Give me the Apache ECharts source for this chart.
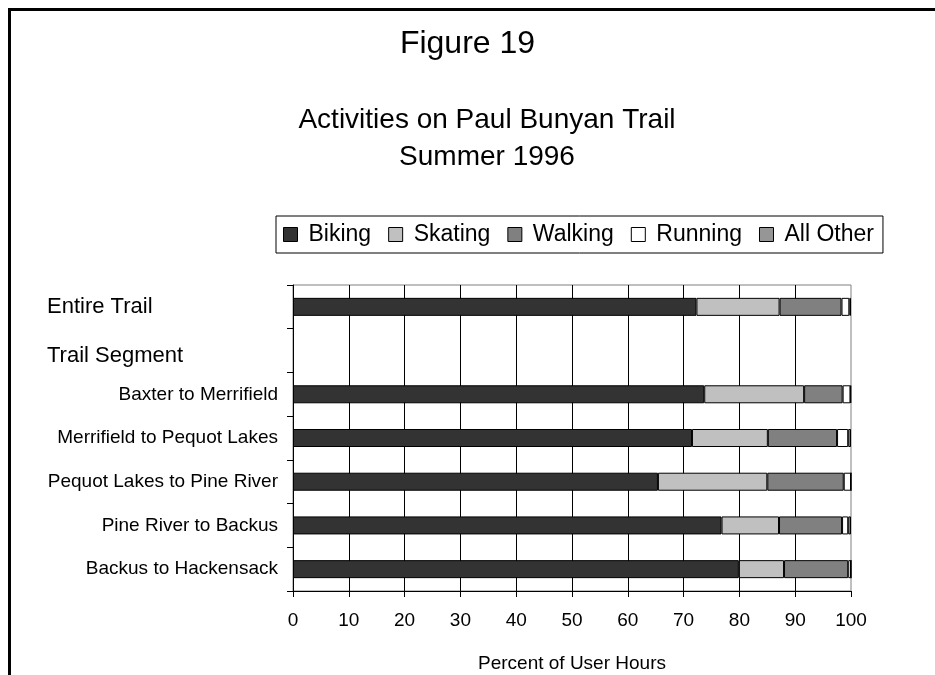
<!DOCTYPE html>
<html>
<head>
<meta charset="utf-8">
<title>Figure 19</title>
<script src="https://cdn.jsdelivr.net/npm/echarts@6/dist/echarts.min.js"></script>
<style>
  html, body { margin: 0; padding: 0; background: #fff; }
  #chart { position: absolute; left: 0; top: 0; width: 935px; height: 675px; }
  /* page frame: top and left rule only */
  #frame {
    position: absolute; left: 8px; top: 8px; right: 0; bottom: 0;
    border-top: 3px solid #000; border-left: 3px solid #000;
    pointer-events: none;
  }
</style>
</head>
<body>
<div id="chart"></div>
<div id="frame"></div>
<script>
  // rows top to bottom, "Trail Segment" is only a heading row
  var segments = ['Entire Trail', 'Trail Segment', 'Baxter to Merrifield', 'Merrifield to Pequot Lakes',
    'Pequot Lakes to Pine River', 'Pine River to Backus', 'Backus to Hackensack']
  var activities = ['Biking', 'Skating', 'Walking', 'Running', 'All Other']

  // percent of user hours
  var biking   = [72.3, '-', 73.7, 71.5, 65.4, 76.8, 79.9]
  var skating  = [14.9, '-', 17.9, 13.6, 19.6, 10.3, 8.1]
  var walking  = [11.1, '-', 6.9, 12.4, 13.7, 11.3, 11.5]
  var running  = [1.4, '-', 1.4, 2.0, 1.3, 1.1, 0.5]
  var allOther = [0.3, '-', 0.1, 0.5, 0.0, 0.5, 0.0]

  var xTicks = [0, 10, 20, 30, 40, 50, 60, 70, 80, 90, 100]

  var colors = ['#333333', '#c0c0c0', '#808080', '#ffffff', '#969696']
  var FONT = 'Liberation Sans, Arial, sans-serif'

  var chart = echarts.init(document.getElementById('chart'))

  function makeSeries(name, data, color) {
    return {
      name: name,
      type: 'bar',
      stack: 'total',
      barWidth: 18,
      data: data,
      itemStyle: {
        color: color,
        borderColor: '#000',
        borderWidth: 1
      },
      emphasis: { disabled: true },
      animation: false
    }
  }

  var seriesData = [biking, skating, walking, running, allOther]

  chart.setOption({
    animation: false,
    textStyle: { fontFamily: FONT, color: '#000' },
    title: [{
      text: 'Figure 19',
      left: 'center',
      top: 28,
      padding: 0,
      textStyle: { fontFamily: FONT, fontSize: 32, fontWeight: 'normal', color: '#000' }
    }, {
      text: 'Activities on Paul Bunyan Trail\nSummer 1996',
      left: 487,
      textAlign: 'center',
      top: 102,
      padding: 0,
      textStyle: { fontFamily: FONT, fontSize: 28, fontWeight: 'normal', color: '#000', lineHeight: 37 }
    }],
    legend: {
      data: activities,
      icon: 'rect',
      left: 276,
      top: 216,
      orient: 'horizontal',
      padding: [7, 9, 7, 7],
      itemGap: 17,
      itemWidth: 14,
      itemHeight: 14,
      borderColor: '#000',
      borderWidth: 1,
      backgroundColor: '#fff',
      selectedMode: false,
      itemStyle: { borderColor: '#000', borderWidth: 1 },
      formatter: function (name) { return '{t|' + name + '}' },
      textStyle: {
        fontFamily: FONT, fontSize: 23, color: '#000',
        rich: { t: { fontFamily: FONT, fontSize: 23, color: '#000', padding: [0, 0, 0, 6] } }
      }
    },
    grid: {
      left: 293,
      right: 84,
      top: 285,
      bottom: 84,
      show: true,
      borderColor: '#808080',
      borderWidth: 1,
      backgroundColor: 'transparent'
    },
    xAxis: {
      type: 'value',
      min: xTicks[0],
      max: xTicks[xTicks.length - 1],
      interval: 10,
      name: 'Percent of User Hours',
      nameLocation: 'middle',
      nameGap: 63,
      nameTextStyle: { fontFamily: FONT, fontSize: 19, color: '#000' },
      axisLine: { show: true, lineStyle: { color: '#000', width: 1 } },
      axisTick: { show: true, length: 6, lineStyle: { color: '#000' } },
      axisLabel: { fontFamily: FONT, fontSize: 19, color: '#000', margin: 20 },
      splitLine: { show: true, showMaxLine: false, lineStyle: { color: '#000', width: 1 } }
    },
    yAxis: {
      type: 'category',
      inverse: true,
      data: segments,
      axisLine: { show: true, lineStyle: { color: '#000', width: 1 } },
      axisTick: { show: true, length: 6, lineStyle: { color: '#000' } },
      splitLine: { show: false },
      axisLabel: {
        margin: 15,
        color: '#000',
        fontFamily: FONT,
        fontSize: 19,
        formatter: function (val) {
          if (val === 'Entire Trail') return '{head|' + val + '}'
          if (val === 'Trail Segment') return '{sub|' + val + '}'
          return val
        },
        rich: {
          head: { fontFamily: FONT, fontSize: 22, color: '#000', width: 231, align: 'left' },
          sub: { fontFamily: FONT, fontSize: 22, color: '#000', width: 231, align: 'left', padding: [10, 0, 0, 0] }
        }
      }
    },
    series: activities.map(function (name, i) {
      return makeSeries(name, seriesData[i], colors[i])
    })
  })
</script>
</body>
</html>
